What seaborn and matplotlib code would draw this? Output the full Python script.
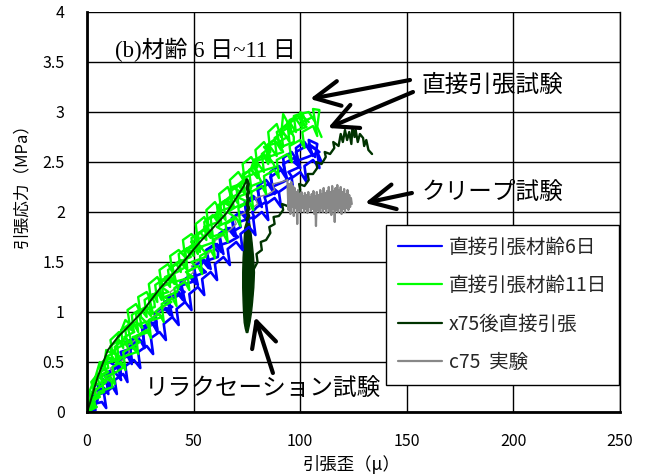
import matplotlib
matplotlib.use('Agg')
import matplotlib.pyplot as plt
import pandas as pd
import seaborn as sns
from matplotlib.lines import Line2D

# ---------------- data ----------------
x_ticks = [0, 50, 100, 150, 200, 250]
x_tick_labels = ['0', '50', '100', '150', '200', '250']
y_ticks = [0, 0.5, 1, 1.5, 2, 2.5, 3, 3.5, 4]
y_tick_labels = ['0', '0.5', '1', '1.5', '2', '2.5', '3', '3.5', '4']

legend_labels = ['直接引張材齢6日', '直接引張材齢11日', 'x75後直接引張', 'c75  実験']

# age 6 days (blue) - cyclic traces
b1_x = [0, 3, 2, 6, 5, 9, 11, 10, 14, 16, 15, 19, 21, 20, 24, 27, 26, 30, 33, 32, 36, 39, 38, 42, 45, 44,
        48, 51, 50, 54, 57, 56, 60, 63, 62, 66, 69, 68, 72, 75, 74, 78, 81, 80, 84, 87, 86, 90, 93, 92,
        96, 99, 98, 102, 105, 104, 108, 107]
b1_y = [0, 0.04, 0.12, 0.18, 0.27, 0.30, 0.24, 0.40, 0.45, 0.37, 0.54, 0.60, 0.52, 0.68, 0.74, 0.66, 0.84,
        0.90, 0.82, 0.98, 1.05, 0.97, 1.14, 1.20, 1.12, 1.30, 1.36, 1.28, 1.46, 1.52, 1.44, 1.62, 1.68,
        1.60, 1.78, 1.84, 1.76, 1.94, 2.00, 1.92, 2.10, 2.16, 2.08, 2.26, 2.32, 2.24, 2.40, 2.46, 2.38,
        2.54, 2.60, 2.50, 2.64, 2.70, 2.60, 2.72, 2.68, 2.55]
b2_x = [0, 4, 3, 7, 9, 8, 12, 14, 13, 17, 19, 18, 22, 25, 24, 28, 31, 30, 34, 37, 36, 40, 43, 42, 46, 49,
        48, 52, 55, 54, 58, 61, 60, 64, 67, 66, 70, 73, 72, 76, 79, 78, 82, 85, 84, 88, 91, 90, 94, 97,
        96, 100, 103, 102, 106, 109, 108, 110]
b2_y = [0, 0.02, 0.08, 0.10, 0.04, 0.18, 0.25, 0.18, 0.32, 0.38, 0.30, 0.46, 0.52, 0.44, 0.60, 0.66, 0.58,
        0.74, 0.80, 0.72, 0.88, 0.95, 0.87, 1.03, 1.10, 1.02, 1.18, 1.25, 1.17, 1.33, 1.40, 1.32, 1.48,
        1.55, 1.47, 1.63, 1.70, 1.62, 1.78, 1.85, 1.77, 1.93, 2.00, 1.92, 2.08, 2.14, 2.05, 2.20, 2.26,
        2.18, 2.34, 2.40, 2.30, 2.46, 2.52, 2.44, 2.60, 2.50]
b3_x = [0, 3, 5, 4, 8, 10, 9, 13, 16, 14, 19, 21, 20, 25, 27, 26, 31, 33, 32, 37, 40, 38, 43, 46, 44, 49,
        52, 50, 55, 58, 56, 61, 64, 62, 67, 70, 68, 73, 76, 74, 79, 82, 80, 85, 88, 86, 91, 94, 92, 97,
        100, 98, 103, 106, 104, 108]
b3_y = [0, 0.05, 0.12, 0.20, 0.24, 0.18, 0.34, 0.40, 0.32, 0.50, 0.56, 0.48, 0.66, 0.72, 0.64, 0.82, 0.88,
        0.80, 0.98, 1.04, 0.96, 1.14, 1.20, 1.10, 1.30, 1.36, 1.27, 1.46, 1.52, 1.43, 1.62, 1.68, 1.58,
        1.78, 1.84, 1.75, 1.94, 2.00, 1.90, 2.08, 2.14, 2.05, 2.22, 2.28, 2.18, 2.35, 2.42, 2.32, 2.48,
        2.54, 2.44, 2.60, 2.66, 2.56, 2.68, 2.62]
b4_x = [0, 4.25, 3.5, 1.75, 9, 5.25, 9.5, 5.75, 11, 14.25, 10.5, 16.6, 15.75, 22.9, 18, 24.1, 27.25, 25.4,
        32.5, 31.6, 32.75, 40, 36.25, 41.5, 45.75, 42, 49.25, 49.5, 55.75, 53, 54.25, 61.4, 61.5, 59.6,
        66.75, 70.9, 68, 72.1, 71.25, 78.4, 77.5, 79.75, 84, 83.25, 89.5, 86.75, 92, 96.25, 94.5, 99.75,
        97, 103.5, 109, 105.5]
b4_y = [0.00, 0.05, 0.10, 0.15, 0.20, 0.25, 0.30, 0.35, 0.40, 0.45, 0.50, 0.55, 0.60, 0.65, 0.70, 0.75,
        0.80, 0.85, 0.90, 0.95, 1.00, 1.05, 1.10, 1.15, 1.20, 1.25, 1.30, 1.35, 1.40, 1.45, 1.50, 1.55,
        1.60, 1.65, 1.70, 1.75, 1.80, 1.85, 1.90, 1.95, 2.00, 2.05, 2.10, 2.15, 2.20, 2.25, 2.30, 2.35,
        2.40, 2.45, 2.50, 2.55, 2.60, 2.65]

# age 11 days (lime) - cyclic traces
g1_x = [0, 2, 1, 4, 3, 6, 8, 9, 12, 11, 15, 14, 18, 20, 19, 23, 25, 24, 28, 30, 29, 33, 35, 34, 38, 40,
        39, 43, 46, 45, 49, 52, 51, 55, 57, 56, 60, 63, 62, 66, 68, 67, 71, 74, 73, 77, 80, 79, 83, 86,
        85, 89, 91, 92, 94, 95]
g1_y = [0, 0.12, 0.20, 0.35, 0.28, 0.50, 0.45, 0.62, 0.58, 0.72, 0.80, 0.70, 0.92, 0.88, 1.02, 1.08, 1.00,
        1.15, 1.20, 1.12, 1.28, 1.35, 1.27, 1.42, 1.48, 1.40, 1.56, 1.62, 1.55, 1.72, 1.78, 1.70, 1.88,
        1.95, 1.86, 2.02, 2.10, 2.00, 2.18, 2.25, 2.15, 2.32, 2.40, 2.30, 2.48, 2.55, 2.45, 2.62, 2.70,
        2.60, 2.80, 2.88, 2.75, 2.98, 2.90, 2.78]
g2_x = [0, 1, 3, 2, 5, 7, 6, 10, 12, 11, 15, 17, 16, 20, 22, 21, 25, 28, 27, 31, 33, 32, 36, 39, 38, 42,
        44, 43, 47, 50, 49, 53, 56, 55, 59, 62, 61, 65, 68, 67, 71, 74, 73, 77, 80, 79, 83, 86, 85, 89,
        92, 91, 95, 98, 97, 101, 103]
g2_y = [0, 0.10, 0.22, 0.30, 0.38, 0.33, 0.48, 0.55, 0.50, 0.66, 0.72, 0.64, 0.82, 0.88, 0.80, 0.97, 1.03,
        0.95, 1.12, 1.18, 1.10, 1.27, 1.33, 1.25, 1.42, 1.48, 1.40, 1.58, 1.64, 1.56, 1.74, 1.80, 1.72,
        1.90, 1.97, 1.88, 2.06, 2.12, 2.03, 2.20, 2.27, 2.18, 2.36, 2.43, 2.34, 2.52, 2.58, 2.50, 2.68,
        2.74, 2.65, 2.83, 2.90, 2.80, 2.96, 2.99, 2.88]
g3_x = [0, 3, 2, 6, 5, 9, 8, 12, 14, 13, 17, 19, 18, 22, 24, 23, 27, 30, 29, 33, 35, 34, 38, 41, 40, 44,
        47, 46, 50, 53, 52, 56, 59, 58, 62, 65, 64, 68, 71, 70, 74, 77, 76, 80, 83, 82, 86, 89, 88, 92,
        95, 94, 98, 101, 100, 104, 107, 106, 109, 108, 110]
g3_y = [0, 0.08, 0.18, 0.25, 0.35, 0.40, 0.50, 0.55, 0.48, 0.65, 0.72, 0.65, 0.82, 0.88, 0.80, 0.98, 1.04,
        0.96, 1.14, 1.20, 1.12, 1.30, 1.36, 1.28, 1.46, 1.52, 1.44, 1.62, 1.68, 1.60, 1.78, 1.85, 1.76,
        1.94, 2.00, 1.92, 2.10, 2.17, 2.08, 2.26, 2.33, 2.24, 2.42, 2.49, 2.40, 2.58, 2.65, 2.56, 2.74,
        2.80, 2.70, 2.88, 2.93, 2.84, 2.98, 3.00, 2.90, 3.03, 3.02, 2.85, 2.75]
g4_x = [0, 4, 3, 8, 7, 11, 13, 12, 16, 18, 17, 22, 24, 23, 28, 30, 29, 34, 36, 35, 40, 42, 41, 46, 48, 47,
        52, 54, 53, 58, 60, 59, 64, 66, 65, 70, 72, 71, 76, 78, 77, 82, 84, 83, 88, 90, 89, 94, 96, 95,
        100, 102, 101, 106, 108, 107]
g4_y = [0, 0.05, 0.15, 0.20, 0.30, 0.35, 0.28, 0.45, 0.50, 0.42, 0.60, 0.66, 0.58, 0.76, 0.82, 0.74, 0.92,
        0.98, 0.90, 1.08, 1.14, 1.06, 1.24, 1.30, 1.22, 1.40, 1.46, 1.38, 1.56, 1.62, 1.54, 1.72, 1.78,
        1.70, 1.88, 1.94, 1.86, 2.04, 2.10, 2.02, 2.20, 2.26, 2.18, 2.36, 2.42, 2.34, 2.52, 2.58, 2.50,
        2.66, 2.72, 2.64, 2.80, 2.86, 2.76, 2.90]
g5_x = [0, 2, 4, 3, 7, 6, 10, 9, 13, 15, 14, 18, 21, 19, 23, 26, 24, 28, 31, 29, 34, 36, 35, 39, 42, 40,
        44, 47, 46, 50, 52, 51, 55, 58, 56, 61, 63, 62, 66, 69, 67, 72, 74, 73, 77, 80, 78, 83, 85, 84,
        88, 91, 89, 94, 96, 95, 99, 102, 100, 104]
g5_y = [0, 0.10, 0.16, 0.26, 0.30, 0.40, 0.44, 0.55, 0.60, 0.52, 0.68, 0.74, 0.68, 0.86, 0.90, 0.84, 1.00,
        1.06, 0.98, 1.16, 1.20, 1.12, 1.30, 1.36, 1.28, 1.46, 1.50, 1.42, 1.60, 1.66, 1.58, 1.76, 1.82,
        1.74, 1.92, 1.97, 1.88, 2.06, 2.12, 2.04, 2.22, 2.27, 2.20, 2.38, 2.42, 2.34, 2.52, 2.56, 2.48,
        2.66, 2.72, 2.62, 2.80, 2.86, 2.78, 2.92, 2.96, 2.86, 2.98, 2.90]
g6_x = [0, 3, 1, 6, 2, 6, 9, 6, 10, 6, 11, 15.7, 11.4, 15.1, 19.8, 17.5, 22.2, 18.9, 27.6, 25.3, 25, 31.8,
        31.6, 30.4, 38.2, 35, 39.8, 36.6, 42.4, 46.2, 43, 48.7, 47.4, 54.1, 48.8, 54.5, 57.2, 54.9, 61.6,
        60.3, 61, 67.8, 63.6, 68.4, 72.2, 68, 74.8, 74.6, 80.4, 77.2, 78, 85, 85, 83, 90, 94, 91, 95, 94,
        101, 100]
g6_y = [0.00, 0.05, 0.10, 0.15, 0.20, 0.25, 0.30, 0.35, 0.40, 0.45, 0.50, 0.55, 0.60, 0.65, 0.70, 0.75,
        0.80, 0.85, 0.90, 0.95, 1.00, 1.05, 1.10, 1.15, 1.20, 1.25, 1.30, 1.35, 1.40, 1.45, 1.50, 1.55,
        1.60, 1.65, 1.70, 1.75, 1.80, 1.85, 1.90, 1.95, 2.00, 2.05, 2.10, 2.15, 2.20, 2.25, 2.30, 2.35,
        2.40, 2.45, 2.50, 2.55, 2.60, 2.65, 2.70, 2.75, 2.80, 2.85, 2.90, 2.95, 3.00]
g7_x = [0, 4.6, 1.2, 5.8, 5.4, 12, 11.6, 8.2, 13.8, 17.4, 14, 16.7, 23.4, 21.1, 24.8, 21.5, 29.2, 28.9,
        27.6, 35.3, 32, 34.8, 39.6, 36.4, 42.2, 43, 40.8, 49.6, 46.4, 51.2, 49, 55.7, 55.4, 53.1, 59.8,
        58.5, 65.2, 60.9, 65.6, 69.3, 66, 69.8, 75.6, 70.4, 77.2, 76, 81.8, 80.6, 80.4, 88.2, 87, 85, 92,
        91, 97, 97, 96, 103, 101, 106]
g7_y = [0.00, 0.05, 0.10, 0.15, 0.20, 0.25, 0.30, 0.35, 0.40, 0.45, 0.50, 0.55, 0.60, 0.65, 0.70, 0.75,
        0.80, 0.85, 0.90, 0.95, 1.00, 1.05, 1.10, 1.15, 1.20, 1.25, 1.30, 1.35, 1.40, 1.45, 1.50, 1.55,
        1.60, 1.65, 1.70, 1.75, 1.80, 1.85, 1.90, 1.95, 2.00, 2.05, 2.10, 2.15, 2.20, 2.25, 2.30, 2.35,
        2.40, 2.45, 2.50, 2.55, 2.60, 2.65, 2.70, 2.75, 2.80, 2.85, 2.90, 2.95]

# x75: loading, relaxation at ~75 micro, then reloading to failure (dark green)
x75_load_x = [0, 1.4, 5, 9.8, 14.5, 19.2, 25.8, 34, 42, 53, 65.5, 73.3, 75]
x75_load_y = [0, 0.09, 0.35, 0.62, 0.75, 0.85, 1.00, 1.23, 1.42, 1.70, 1.99, 2.25, 2.32]
x75_relax_top_x = [75.0, 75.6, 75.2, 75.7, 75.2, 75.7, 75.1, 75.8, 75.1, 75.8, 75.0]
x75_relax_top_y = [2.32, 2.28, 2.24, 2.20, 2.16, 2.12, 2.08, 2.04, 2.00, 1.96, 1.92]
# envelope of the dense relaxation scribble (left / right strain at each stress level)
x75_relax_env_y = [1.92, 1.85, 1.70, 1.55, 1.40, 1.25, 1.10, 1.00, 0.90, 0.84, 0.80]
x75_relax_env_left = [74.8, 73.8, 73.4, 73.0, 72.8, 72.8, 73.0, 73.2, 73.5, 74.0, 74.5]
x75_relax_env_right = [75.8, 76.4, 77.2, 77.9, 78.3, 78.0, 77.4, 76.9, 76.2, 75.6, 75.2]
x75_reload_x = [78, 80, 79.5, 82, 81.5, 84, 86, 85.5, 88, 87.5, 90, 92, 91.5, 94, 96, 95.5, 98, 100, 99.5,
                102, 104, 103.5, 106, 108, 107.5, 110, 112, 111.5, 114, 116, 115.5, 118, 119, 120, 121,
                122, 123, 124, 124.5, 125.5, 126, 127, 128, 129.5, 130, 131, 132, 133.7]
x75_reload_y = [1.42, 1.50, 1.58, 1.62, 1.70, 1.72, 1.79, 1.85, 1.88, 1.95, 1.96, 2.02, 2.08, 2.06, 2.12,
                2.18, 2.16, 2.22, 2.28, 2.26, 2.32, 2.38, 2.38, 2.44, 2.50, 2.48, 2.55, 2.60, 2.58, 2.64,
                2.70, 2.66, 2.78, 2.70, 2.82, 2.72, 2.80, 2.68, 2.85, 2.75, 2.82, 2.70, 2.78, 2.74, 2.66,
                2.72, 2.62, 2.58]

# c75: loading then creep at constant stress (gray)
c75_load_x = [0, 2, 5, 4, 9, 12, 11, 16, 20, 19, 25, 30, 29, 35, 40, 39, 45, 50, 49, 55, 60, 59, 65, 70,
              69, 75, 80, 79, 85, 88, 87, 91, 94]
c75_load_y = [0, 0.08, 0.15, 0.22, 0.30, 0.38, 0.44, 0.50, 0.60, 0.66, 0.76, 0.86, 0.92, 1.02, 1.14, 1.20,
              1.30, 1.40, 1.46, 1.55, 1.64, 1.70, 1.78, 1.88, 1.94, 2.00, 2.08, 2.14, 2.18, 2.22, 2.28, 2.30,
              2.32]
c75_creep_x = [94.0, 94.5, 95.0, 95.4, 95.8, 96.2, 96.6, 97.0, 97.4, 97.8,
               98.2, 98.6, 99.0, 99.4, 99.8, 100.2, 100.6, 101.0, 101.4, 101.8,
               102.2, 102.6, 103.0, 103.4, 103.8, 104.2, 104.6, 105.0, 105.4, 105.8,
               106.2, 106.6, 107.0, 107.4, 107.8, 108.2, 108.6, 109.0, 109.4, 109.8,
               110.2, 110.6, 111.0, 111.4, 111.8, 112.2, 112.6, 113.0, 113.4, 113.8,
               114.2, 114.6, 115.0, 115.4, 115.8, 116.2, 116.6, 117.0, 117.4, 117.8,
               118.2, 118.6, 119.0, 119.4, 119.8, 120.2, 120.6, 121.0, 121.4, 121.8,
               122.2, 122.6, 123.0, 123.4, 123.8, 124.2]
c75_creep_y = [2.32, 2.02, 2.28, 1.98, 2.30, 2.05, 2.26, 1.96, 2.24, 2.04,
               2.20, 1.88, 2.22, 2.02, 2.18, 2.00, 2.20, 2.04, 2.16, 2.00,
               2.19, 2.03, 2.17, 1.99, 2.20, 2.05, 2.15, 2.01, 2.18, 2.03,
               2.21, 1.98, 2.16, 1.86, 2.20, 2.02, 2.17, 2.00, 2.22, 2.04,
               2.18, 2.00, 2.24, 2.03, 2.19, 1.99, 2.21, 2.04, 2.25, 2.00,
               2.20, 1.97, 2.26, 2.03, 2.21, 1.90, 2.24, 2.02, 2.27, 2.00,
               2.22, 2.04, 2.25, 1.98, 2.20, 2.03, 2.23, 2.00, 2.18, 2.04,
               2.22, 2.02, 2.17, 2.05, 2.14, 2.08]

# ---------------- styling ----------------
BLUE = '#0000FF'
LIME = '#00FF00'
DARK = '#003300'
GRAY = '#888888'

sns.set_theme(style='white')
plt.rcParams['font.family'] = ['Noto Sans CJK JP', 'DejaVu Sans']
plt.rcParams['axes.unicode_minus'] = False

fig = plt.figure(figsize=(6.48, 4.76), dpi=100)
ax = fig.add_axes([87 / 648, 64 / 476, 533 / 648, 400 / 476])


def draw(xs, ys, color, lw):
    df = pd.DataFrame({'x': xs, 'y': ys})
    sns.lineplot(data=df, x='x', y='y', sort=False, estimator=None,
                 color=color, lw=lw, ax=ax, legend=False)


for xs, ys in [(b1_x, b1_y), (b2_x, b2_y), (b3_x, b3_y), (b4_x, b4_y)]:
    draw(xs, ys, BLUE, 1.9)
draw(c75_load_x, c75_load_y, GRAY, 1.0)
for xs, ys in [(g1_x, g1_y), (g2_x, g2_y), (g3_x, g3_y), (g4_x, g4_y), (g5_x, g5_y),
               (g6_x, g6_y), (g7_x, g7_y)]:
    draw(xs, ys, LIME, 1.7)
draw(x75_load_x, x75_load_y, DARK, 1.4)
draw(x75_relax_top_x, x75_relax_top_y, DARK, 2.5)
ax.fill_betweenx(x75_relax_env_y, x75_relax_env_left, x75_relax_env_right,
                 color=DARK, lw=1.0, edgecolor=DARK)
draw(x75_reload_x, x75_reload_y, DARK, 1.7)
draw(c75_creep_x, c75_creep_y, GRAY, 1.6)

ax.set_xlim(0, 250)
ax.set_ylim(0, 4)
ax.set_xticks(x_ticks)
ax.set_xticklabels(x_tick_labels)
ax.set_yticks(y_ticks)
ax.set_yticklabels(y_tick_labels)
ax.tick_params(axis='x', length=0, pad=15, labelsize=11.5, colors='black')
ax.tick_params(axis='y', length=0, pad=16, labelsize=11.5, colors='black')
ax.grid(True, color='black', lw=1.0)
ax.set_axisbelow(True)
for side in ['left', 'bottom']:
    ax.spines[side].set_color('black')
    ax.spines[side].set_linewidth(2.0)
ax.spines['right'].set_color('black')
ax.spines['right'].set_linewidth(1.0)
ax.spines['top'].set_visible(False)

ax.set_xlabel('引張歪（μ）', fontsize=12.5, color='black')
ax.set_ylabel('引張応力（MPa）', fontsize=12, color='black')
ax.xaxis.set_label_coords(0.497, -0.1075)
ax.yaxis.set_label_coords(-0.107, 0.575)

handles = [Line2D([], [], color=c, lw=1.6) for c in [BLUE, LIME, DARK, GRAY]]
leg = ax.legend(handles, legend_labels, loc='upper right',
                bbox_to_anchor=(619 / 648, 1 - 225 / 476), bbox_transform=fig.transFigure,
                borderaxespad=0, frameon=True, fancybox=False, edgecolor='black', framealpha=1,
                fontsize=14, handlelength=2.3, handletextpad=0.35, labelspacing=0.9,
                borderpad=0.6)
leg.get_frame().set_linewidth(1.0)

ax.text(13.1, 3.62, '(b)材齢 6 日~11 日', fontsize=16.5, va='center', ha='left',
        family=['Liberation Serif', 'Noto Sans CJK JP'], color='black')
ax.text(157.1, 3.27, '直接引張試験', fontsize=17, va='center', ha='left', color='black')
ax.text(157.1, 2.20, 'クリープ試験', fontsize=17, va='center', ha='left', color='black')
ax.text(27.2, 0.24, 'リラクセーション試験', fontsize=17, va='center', ha='left', color='black')

arrow_props = dict(arrowstyle='->,head_length=0.9,head_width=0.45', lw=3.0, color='black',
                   mutation_scale=20, shrinkA=0, shrinkB=0)
for tip, tail in [((104.6, 3.13), (151.5, 3.32)), ((113.0, 2.84), (152.9, 3.20)),
                  ((130.4, 2.09), (152.4, 2.19)), ((78.8, 0.95), (87.2, 0.39))]:
    ax.annotate('', xy=tip, xytext=tail, arrowprops=arrow_props)

fig.savefig('out.png', dpi=100)
